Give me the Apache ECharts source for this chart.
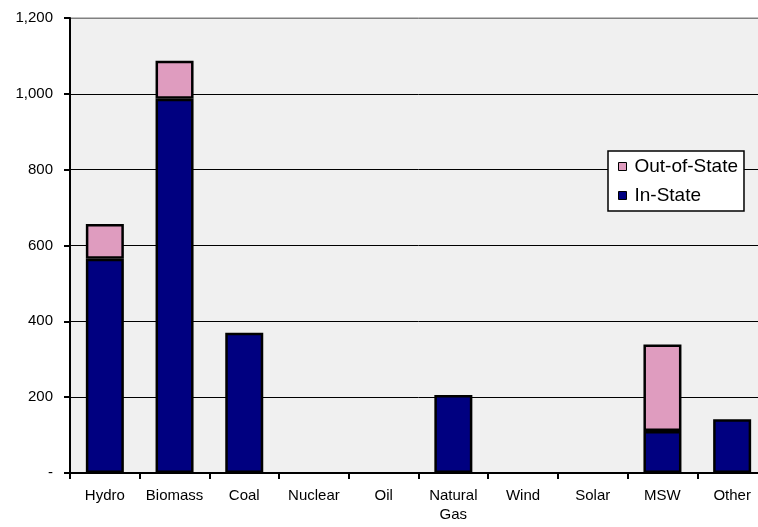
<!DOCTYPE html>
<html>
<head>
<meta charset="utf-8">
<script src="https://cdn.jsdelivr.net/npm/echarts@6/dist/echarts.min.js"></script>
<style>
  html, body { margin: 0; padding: 0; background: #ffffff; overflow: hidden; width: 758px; height: 527px; }
  /* plot frame runs slightly past the right edge of the window */
  #chart { width: 772px; height: 527px; }
</style>
</head>
<body>
<div id="chart"></div>
<script>
// Electricity generation by fuel source, split by in-state and out-of-state supply
const categories = ['Hydro', 'Biomass', 'Coal', 'Nuclear', 'Oil', 'Natural\nGas', 'Wind', 'Solar', 'MSW', 'Other'];
const inState    = [565, 987, 370, null, null, 206, null, null, 111, 142];
const outOfState = [92, 100, null, null, null, null, null, null, 228, null];
const yTicks = { min: 0, max: 1200, step: 200 };

const fmt = v => v === 0 ? '-' : v.toLocaleString('en-US');

const chart = echarts.init(document.getElementById('chart'), null, { renderer: 'canvas' });
chart.setOption({
  animation: false,
  backgroundColor: '#ffffff',
  textStyle: { fontFamily: 'Liberation Sans, Arial, sans-serif' },
  grid: {
    left: 70, top: 18, width: 697, height: 455,
    show: true, backgroundColor: '#F0F0F0', borderColor: '#808080', borderWidth: 1
  },
  legend: {
    orient: 'vertical',
    left: 608, top: 151,
    data: ['Out-of-State', 'In-State'],
    backgroundColor: '#ffffff',
    borderColor: '#000000', borderWidth: 1.5,
    padding: [6, 6, 6, 10],
    itemWidth: 8, itemHeight: 8, itemGap: 10,
    icon: 'rect',
    itemStyle: { borderColor: '#000000', borderWidth: 1 },
    textStyle: { fontSize: 19, color: '#000000', padding: [0, 0, 0, 3] }
  },
  xAxis: {
    type: 'category',
    data: categories,
    boundaryGap: true,
    axisLine: { lineStyle: { color: '#000000', width: 2 } },
    axisTick: { show: true, length: 6, lineStyle: { color: '#000000', width: 2 } },
    axisLabel: { color: '#000000', fontSize: 15, margin: 13, lineHeight: 19, interval: 0 },
    splitLine: { show: false }
  },
  yAxis: {
    type: 'value',
    min: yTicks.min, max: yTicks.max, interval: yTicks.step,
    axisLine: { show: true, lineStyle: { color: '#000000', width: 2 } },
    axisTick: { show: true, length: 6, lineStyle: { color: '#000000', width: 2 } },
    axisLabel: { color: '#000000', fontSize: 15, margin: 17, formatter: fmt },
    splitLine: {
      show: true,
      lineStyle: { color: ['#000000', '#000000', '#000000', '#000000', '#000000', '#000000', '#808080'], width: 1 }
    }
  },
  series: [
    {
      name: 'In-State', type: 'bar', stack: 'total',
      data: inState, barWidth: 38,
      itemStyle: { color: '#000080', borderColor: '#000000', borderWidth: 2.5 }
    },
    {
      name: 'Out-of-State', type: 'bar', stack: 'total',
      data: outOfState, barWidth: 38,
      itemStyle: { color: '#DF9CBF', borderColor: '#000000', borderWidth: 2.5 }
    }
  ]
});
</script>
</body>
</html>
